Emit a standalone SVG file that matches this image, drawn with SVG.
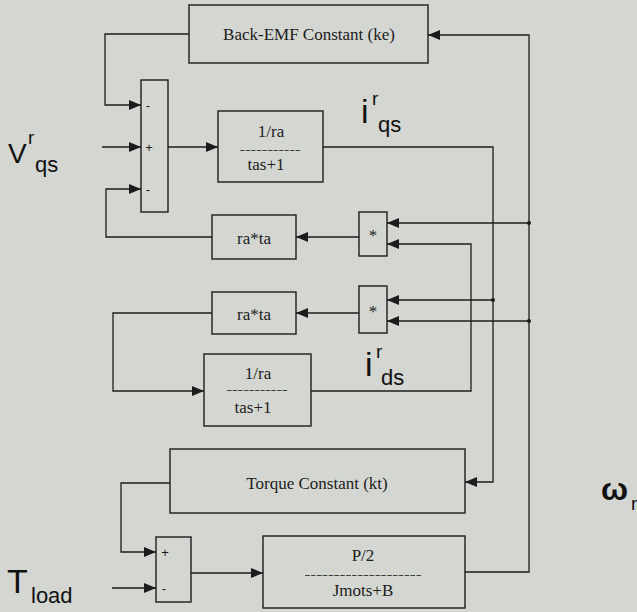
<svg xmlns="http://www.w3.org/2000/svg" width="637" height="612" viewBox="0 0 637 612">
<defs>
<style>
.bg{fill:#d4d6d2}
.blk{fill:none;stroke:#1c1c1c;stroke-width:1.4}
.wire{fill:none;stroke:#1c1c1c;stroke-width:1.3;marker-end:url(#ah)}
.bt{font-family:"Liberation Serif","Times New Roman",serif;font-size:17px;fill:#1c1c1c;text-anchor:middle}
.dash{font-family:"Liberation Serif","Times New Roman",serif;font-size:10px;fill:#1c1c1c;text-anchor:middle}
.sg{font-family:"Liberation Sans",Arial,sans-serif;font-size:13px;fill:#1c1c1c;text-anchor:middle}
.lb{font-family:"Liberation Sans",Arial,sans-serif;fill:#111}
.dot{fill:#1c1c1c}
</style>
<marker id="ah" markerUnits="userSpaceOnUse" markerWidth="12" markerHeight="10" refX="12" refY="5" orient="auto">
<path d="M0,0 L12,5 L0,10 z" fill="#1c1c1c"/>
</marker>
</defs>
<rect class="bg" x="0" y="0" width="637" height="612"/>

<g id="connectors">
<polyline class="wire" points="465,572 529,572 529,35 428,35"/>
<polyline class="wire" points="529,223 387,223"/>
<polyline class="wire" points="529,321 387,321"/>
<circle class="dot" cx="529" cy="223" r="2"/>
<circle class="dot" cx="529" cy="321" r="2"/>
<polyline class="wire" points="189,34 105,34 105,105 141,105"/>
<polyline class="wire" points="102,147 141,147"/>
<polyline class="wire" points="212,237 106,237 106,189 141,189"/>
<polyline class="wire" points="168,147 218,147"/>
<polyline class="wire" points="323,147 493,147 493,482 465,482"/>
<polyline class="wire" points="493,300 387,300"/>
<circle class="dot" cx="493" cy="300" r="2"/>
<polyline class="wire" points="359,237 296,237"/>
<polyline class="wire" points="359,313 296,313"/>
<polyline class="wire" points="212,313 113,313 113,391 204,391"/>
<polyline class="wire" points="311,391 471,391 471,244 387,244"/>
<polyline class="wire" points="170,483 121,483 121,552 156,552"/>
<polyline class="wire" points="112,588 156,588"/>
<polyline class="wire" points="191,573 263,573"/>
</g>

<g id="backemf">
<rect class="blk" x="189" y="5" width="239" height="58"/>
<text class="bt" x="309" y="40">Back-EMF Constant (ke)</text>
</g>

<g id="sum1">
<rect class="blk" x="141" y="80" width="27" height="132"/>
<text class="sg" x="148" y="110">-</text>
<text class="sg" x="149" y="152">+</text>
<text class="sg" x="148" y="194">-</text>
</g>

<g id="tf_q">
<rect class="blk" x="218" y="111" width="105" height="71"/>
<text class="bt" x="271" y="137">1/ra</text>
<text class="dash" x="270" y="152.5" textLength="61" lengthAdjust="spacingAndGlyphs">-----------</text>
<text class="bt" x="266" y="170">tas+1</text>
</g>

<g id="mul1">
<rect class="blk" x="359" y="212" width="28" height="44"/>
<text class="bt" x="373" y="241">*</text>
</g>

<g id="rata1">
<rect class="blk" x="212" y="215" width="84" height="44"/>
<text class="bt" x="254" y="244">ra*ta</text>
</g>

<g id="mul2">
<rect class="blk" x="359" y="286" width="28" height="47"/>
<text class="bt" x="373" y="317">*</text>
</g>

<g id="rata2">
<rect class="blk" x="212" y="292" width="84" height="42"/>
<text class="bt" x="254" y="320">ra*ta</text>
</g>

<g id="tf_d">
<rect class="blk" x="204" y="354" width="107" height="72"/>
<text class="bt" x="258" y="379">1/ra</text>
<text class="dash" x="257" y="393" textLength="61" lengthAdjust="spacingAndGlyphs">-----------</text>
<text class="bt" x="253" y="413">tas+1</text>
</g>

<g id="torque">
<rect class="blk" x="170" y="449" width="295" height="64"/>
<text class="bt" x="317" y="489">Torque Constant (kt)</text>
</g>

<g id="sum2">
<rect class="blk" x="156" y="537" width="35" height="65"/>
<text class="sg" x="165" y="557">+</text>
<text class="sg" x="164" y="593">-</text>
</g>

<g id="mech">
<rect class="blk" x="263" y="536" width="202" height="72"/>
<text class="bt" x="363" y="561">P/2</text>
<text class="dash" x="363" y="577.5" textLength="117" lengthAdjust="spacingAndGlyphs">--------------------</text>
<text class="bt" x="363" y="596">Jmots+B</text>
</g>

<g id="labels">
<text class="lb" x="8" y="163" font-size="28">V</text>
<text class="lb" x="28" y="144" font-size="19">r</text>
<text class="lb" x="35" y="172" font-size="22">qs</text>

<text class="lb" x="361" y="123" font-size="34">i</text>
<text class="lb" x="372" y="105" font-size="19">r</text>
<text class="lb" x="378" y="132" font-size="22">qs</text>

<text class="lb" x="365" y="376" font-size="34">i</text>
<text class="lb" x="376" y="358" font-size="19">r</text>
<text class="lb" x="381" y="385" font-size="22">ds</text>

<text class="lb" x="7" y="593" font-size="34">T</text>
<text class="lb" x="31" y="603" font-size="22">load</text>

<text class="lb" x="601" y="500" font-size="32" font-weight="bold">ω</text>
<text class="lb" x="631" y="510" font-size="19">r</text>
</g>
</svg>
